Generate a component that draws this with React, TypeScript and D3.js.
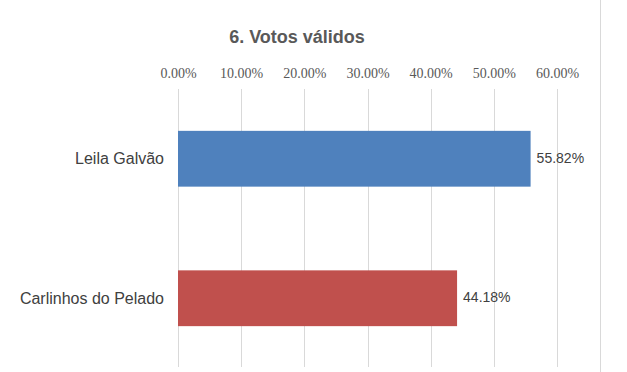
import React, { useEffect, useRef } from 'react';
import * as d3 from 'd3';

const title = '6. Votos válidos';
const candidates = ['Leila Galvão', 'Carlinhos do Pelado'];
const shares = [0.5582, 0.4418];
const barColors = ['#4F81BD', '#C0504D'];
const ticks = [0, 0.1, 0.2, 0.3, 0.4, 0.5, 0.6];

const W = 627;
const H = 372;

const App = () => {
  const svgRef = useRef<SVGSVGElement>(null);

  useEffect(() => {
    const svg = d3.select(svgRef.current);
    svg.selectAll('*').remove();

    const x = d3.scaleLinear().domain([0, 0.6]).range([178, 557]);
    const y = d3.scaleBand<string>()
      .domain(candidates)
      .range([89, 368])
      .paddingInner(0.6)
      .paddingOuter(0.3);

    svg.append('rect').attr('width', W).attr('height', H).attr('fill', '#fff');

    // chart border on the right
    svg.append('line')
      .attr('x1', 600.5).attr('x2', 600.5)
      .attr('y1', 0).attr('y2', H)
      .attr('stroke', '#d9d9d9');

    svg.append('text')
      .attr('x', 297)
      .attr('y', 43)
      .attr('text-anchor', 'middle')
      .style('font-family', '"Liberation Sans", Arial, sans-serif')
      .style('font-size', '18px')
      .style('font-weight', 'bold')
      .style('fill', '#595959')
      .text(title);

    // top axis
    const axis = svg.append('g')
      .attr('transform', 'translate(0,89)')
      .call(d3.axisTop(x).tickValues(ticks).tickFormat(d => (+d * 100).toFixed(2) + '%').tickSize(0).tickPadding(11));
    axis.select('.domain').remove();
    axis.selectAll('text')
      .style('font-family', '"Liberation Serif", "DejaVu Serif", serif')
      .style('font-size', '14px')
      .style('fill', '#595959');

    // gridlines
    svg.append('g')
      .selectAll('line')
      .data(ticks)
      .enter().append('line')
      .attr('x1', d => Math.round(x(d)) + 0.5)
      .attr('x2', d => Math.round(x(d)) + 0.5)
      .attr('y1', 89)
      .attr('y2', 367)
      .attr('stroke', '#d9d9d9');

    // category labels
    svg.append('g')
      .selectAll('text')
      .data(candidates)
      .enter().append('text')
      .attr('x', 164)
      .attr('y', d => (y(d) ?? 0) + y.bandwidth() / 2)
      .attr('dy', '0.35em')
      .attr('text-anchor', 'end')
      .style('font-family', '"Liberation Sans", Arial, sans-serif')
      .style('font-size', '16px')
      .style('fill', '#404040')
      .text(d => d);

    // bars
    svg.append('g')
      .selectAll('rect')
      .data(candidates)
      .enter().append('rect')
      .attr('x', x(0))
      .attr('y', d => y(d) ?? 0)
      .attr('width', (d, i) => x(shares[i]) - x(0))
      .attr('height', y.bandwidth())
      .attr('fill', (d, i) => barColors[i]);

    // value labels
    svg.append('g')
      .selectAll('text')
      .data(candidates)
      .enter().append('text')
      .attr('x', (d, i) => x(shares[i]) + 6)
      .attr('y', d => (y(d) ?? 0) + y.bandwidth() / 2 - 1)
      .attr('dy', '0.35em')
      .style('font-family', '"Liberation Sans", Arial, sans-serif')
      .style('font-size', '14px')
      .style('fill', '#404040')
      .text((d, i) => (shares[i] * 100).toFixed(2) + '%');
  }, []);

  return (
    <div style={{ position: 'absolute', left: 0, top: 0 }}>
      <svg ref={svgRef} width={W} height={H} style={{ display: 'block' }}></svg>
    </div>
  );
};

export default App;
